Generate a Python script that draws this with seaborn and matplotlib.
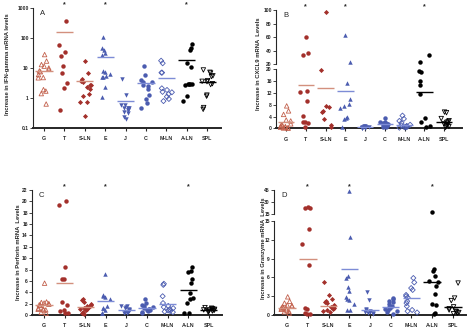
import numpy as np
import matplotlib.pyplot as plt
import pandas as pd
import seaborn as sns

cats = ["G", "T", "S-LN", "E", "J", "C", "M-LN", "A-LN", "SPL"]
starred = ["T", "E", "A-LN"]

# A: IFN-gamma (log axis)
ifn = {
    "G": [28, 17, 13, 11.5, 10, 9, 8, 7.5, 6, 4.8, 4.7, 1.9, 1.7, 1.4, 0.63],
    "T": [378, 58, 33, 25, 11.7, 6.6, 3.2, 2.2, 0.4],
    "S-LN": [16.5, 6.7, 4.4, 3.8, 3.4, 2.7, 2.7, 2.3, 2.0, 1.35, 1.15, 0.75, 0.75, 0.25],
    "E": [105, 45, 40, 32, 28, 7.9, 7.2, 6.5, 5.3, 4.9, 4.9, 2.3, 1.05],
    "J": [4.4, 1.3, 0.6, 0.58, 0.48, 0.47, 0.46, 0.4, 0.39, 0.34, 0.32, 0.23, 0.2],
    "C": [12, 5.7, 4, 3.4, 3.3, 2.7, 2.6, 1.95, 1.3, 0.93, 0.67, 0.48],
    "M-LN": [17.5, 14.4, 7, 7, 2.1, 1.85, 1.6, 1.55, 1.35, 1.1, 0.93, 0.79],
    "A-LN": [62, 47, 40, 14.5, 11, 3.0, 3.0, 3.0, 2.9, 2.8, 1.2, 0.8],
    "SPL": [8.6, 7.2, 6.8, 5.5, 5.2, 3.8, 3.6, 3.5, 3.0, 2.8, 1.25, 1.15, 0.48, 0.42],
}
ifn_line = [7.9, 160, 3.7, 24, 0.79, 3.1, 4.5, 18.5, 3.5]

# B: CXCL9 (axis broken at 20)
cxcl9 = {
    "G": [7.6, 5.9, 4.7, 2.8, 2.5, 1.5, 1.1, 0.9, 0.8, 0.6, 0.35, 0.3, 0.2, 0.1, 0.05],
    "T": [60, 36, 33.5, 12.5, 12.4, 9.1, 4.2, 2.2, 2.0, 1.8, 0.3],
    "S-LN": [97, 19.7, 7.4, 7.2, 5.7, 5.6, 3.1, 1.1, 0.3],
    "E": [63, 22.5, 15.5, 10, 8.3, 7.6, 6.8, 3.7, 3.4, 3.1, 0.3],
    "J": [0.9, 0.7, 0.6, 0.5, 0.4, 0.35, 0.3, 0.25, 0.2, 0.2, 0.15, 0.1],
    "C": [3.4, 2.2, 2.0, 1.8, 1.6, 1.5, 1.3, 1.2, 1.0, 0.8, 0.6, 0.4],
    "M-LN": [4.3, 3.2, 2.5, 1.8, 1.2, 1.0, 0.8, 0.6, 0.5, 0.4, 0.3, 0.2],
    "A-LN": [33.5, 23.5, 19.5, 19, 15.9, 14.8, 11.6, 3.4, 2.3, 0.9, 0.6],
    "SPL": [5.5, 5.3, 3.3, 2.6, 2.2, 2.0, 1.6, 1.3, 1.0, 0.8, 0.6, 0.3],
}
cxcl9_line = [2.2, 14.8, 13.6, 12.7, 0.4, 1.4, 1.1, 12.2, 2.1]

# C: Perforin
perf = {
    "G": [5.6, 2.3, 2.2, 2.1, 2.0, 1.9, 1.8, 1.7, 1.2, 1.1, 1.0, 0.9, 0.9, 0.5, 0.3],
    "T": [20, 19.3, 8.5, 6.4, 6.3, 2.3, 1.7, 0.9, 0.7, 0.4, 0.3],
    "S-LN": [2.9, 2.6, 2.3, 2.0, 1.8, 1.6, 1.5, 1.4, 1.2, 1.1, 1.0, 0.8, 0.6, 0.4, 0.2],
    "E": [7.3, 3.5, 3.3, 3.1, 2.8, 1.5, 1.3, 1.2, 0.9, 0.4, 0.3],
    "J": [1.6, 1.5, 1.4, 1.2, 1.0, 0.9, 0.8, 0.7, 0.6, 0.5, 0.4, 0.3],
    "C": [2.8, 2.2, 1.7, 1.5, 1.4, 1.2, 1.1, 1.0, 0.9, 0.8, 0.7, 0.5, 0.3],
    "M-LN": [5.5, 5.3, 3.3, 2.1, 1.6, 1.4, 1.2, 1.0, 0.8, 0.7, 0.6, 0.5],
    "A-LN": [8.4, 7.8, 7.5, 6.4, 5.6, 3.9, 3.0, 2.9, 2.2, 0.4, 0.3],
    "SPL": [1.3, 1.2, 1.1, 1.0, 1.0, 0.9, 0.9, 0.8, 0.8, 0.7, 0.6, 0.5],
}
perf_line = [1.8, 5.6, 1.4, 2.4, 0.8, 1.3, 2.0, 4.4, 0.9]

# D: Granzyme (axis broken at 15)
gzm = {
    "G": [2.9, 2.2, 1.9, 1.6, 1.5, 1.4, 1.3, 1.2, 1.1, 1.0, 0.9, 0.8, 0.6, 0.5, 0.3],
    "T": [23.5, 23, 22.5, 13.8, 11.3, 8.0, 1.1, 0.9, 0.3, 0.2, 0.15],
    "S-LN": [5.3, 3.2, 2.5, 2.2, 2.0, 1.9, 1.6, 1.4, 1.2, 1.1, 0.9, 0.8, 0.6, 0.5],
    "E": [44, 12.5, 6.2, 5.9, 4.5, 3.9, 2.9, 2.6, 2.4, 1.8, 0.8, 0.8],
    "J": [3.6, 2.4, 0.9, 0.8, 0.6, 0.5, 0.4, 0.3, 0.3, 0.2],
    "C": [2.7, 2.5, 2.3, 2.0, 1.7, 1.5, 1.3, 1.1, 1.0, 0.8, 0.6, 0.4, 0.2],
    "M-LN": [5.9, 5.2, 4.3, 4.0, 3.2, 3.0, 2.8, 2.2, 1.9, 1.4, 0.8, 0.6, 0.4],
    "A-LN": [18.3, 7.4, 7.0, 6.2, 5.4, 5.2, 4.6, 3.4, 1.7, 1.6, 0.3, 0.2],
    "SPL": [5.1, 2.7, 2.3, 1.3, 1.0, 0.8, 0.6, 0.5, 0.4, 0.3, 0.2],
}
gzm_line = [1.1, 8.9, 1.4, 7.4, 0.8, 1.3, 2.7, 5.2, 1.3]

red, red_light, blue = "#a3302b", "#c2604c", "#4b5cb0"
markers = ["^", "o", "D", "^", "v", "o", "D", "o", "v"]
hollow = [True, False, False, False, False, False, True, False, True]
colors = [red_light, red, red, blue, blue, blue, blue, "black", "black"]
line_colors = ["#d3907e"] * 3 + ["#7d8cd6"] * 4 + ["black"] * 2

sns.set_style("ticks")
plt.rcParams["font.family"] = ["Liberation Sans", "DejaVu Sans"]
plt.rcParams["font.weight"] = "bold"

fig = plt.figure(figsize=(4.68, 3.30), dpi=100)


def box(l, t, r, b):
    # pixel box -> figure fraction
    return [l / 468, 1 - b / 330, (r - l) / 468, (b - t) / 330]


def draw_points(ax, values, line_vals, lo=-np.inf, hi=np.inf):
    df = pd.DataFrame(
        [(c, v) for c in cats for v in values[c]], columns=["tissue", "value"]
    )
    df = df[(df["value"] >= lo) & (df["value"] <= hi)]
    np.random.seed(3)
    for i, c in enumerate(cats):
        sub = df[df["tissue"] == c]
        if sub.empty:
            continue
        kw = dict(marker=markers[i], jitter=0.3)
        size = 2.6 if markers[i] == "D" else 3.2
        if hollow[i]:
            kw.update(facecolor="none", edgecolor=colors[i], linewidth=0.6)
        else:
            kw.update(linewidth=0)
        sns.stripplot(
            data=sub, x="tissue", y="value", order=cats, color=colors[i],
            size=size, ax=ax, **kw
        )
    # let points sit on the axis lines (skip the empty collections)
    for coll in ax.collections:
        if len(coll.get_offsets()) > 0:
            coll.set_clip_on(False)
    xs = np.arange(len(cats))
    keep = np.array([(v >= lo) and (v <= hi) for v in line_vals])
    if keep.any():
        ax.hlines(
            np.array(line_vals)[keep], xs[keep] - 0.42, xs[keep] + 0.42,
            colors=np.array(line_colors)[keep], linewidth=1.0, zorder=4
        )
    ax.set_xlabel("")
    ax.set_ylabel("")


def style_bottom(ax, xlim):
    ax.set_xlim(xlim)
    ax.set_xticks(range(len(cats)))
    ax.set_xticklabels(cats, fontsize=3.8, fontweight="bold")
    ax.tick_params(axis="x", length=2, width=0.8, pad=4)
    ax.tick_params(axis="y", length=2, width=0.6, pad=1, labelsize=3.6)
    ax.spines["bottom"].set_linewidth(1.4)
    ax.spines["left"].set_linewidth(0.8)
    sns.despine(ax=ax)


def style_top(ax, xlim):
    ax.set_xlim(xlim)
    ax.set_xticks([])
    ax.tick_params(axis="y", length=2, width=0.6, pad=1, labelsize=3.6)
    ax.spines["left"].set_linewidth(0.8)
    sns.despine(ax=ax, bottom=True)


def decorate(ax, letter):
    for c in starred:
        ax.annotate(
            "*", xy=(cats.index(c), 1), xycoords=("data", "axes fraction"),
            xytext=(0, 0), textcoords="offset points", ha="center",
            va="bottom", fontsize=5
        )
    ax.annotate(
        letter, xy=(0, 1), xycoords="axes fraction", xytext=(5, -1.5),
        textcoords="offset points", ha="left", va="top", fontsize=5.5,
        fontweight="normal"
    )


# ---- A
ax_a = fig.add_axes(box(33, 8, 221, 128))
ax_a.set_yscale("log")
draw_points(ax_a, ifn, ifn_line)
ax_a.set_ylim(0.1, 1000)
ax_a.set_yticks([0.1, 1, 10, 100, 1000])
ax_a.set_yticklabels(["0.1", "1", "10", "100", "1000"])
ax_a.yaxis.set_minor_locator(plt.NullLocator())
style_bottom(ax_a, (-0.54, 8.68))
decorate(ax_a, "A")
fig.text(0.016, 1 - 64 / 330, "Increase in IFN-gamma mRNA levels",
         rotation=90, ha="center", va="center", fontsize=4.2)

# ---- B
ax_b = fig.add_axes(box(276, 69.3, 462, 128.3))
ax_b2 = fig.add_axes(box(276, 10.3, 462, 64))
draw_points(ax_b, cxcl9, cxcl9_line, hi=20)
draw_points(ax_b2, cxcl9, cxcl9_line, lo=20)
ax_b.set_ylim(0, 20)
ax_b.set_yticks(range(0, 21, 4))
ax_b2.set_ylim(20, 100)
ax_b2.set_yticks(range(20, 101, 20))
style_bottom(ax_b, (-0.51, 8.91))
style_top(ax_b2, (-0.51, 8.91))
decorate(ax_b2, "B")
fig.text(259 / 468, 1 - 64 / 330, "Increase in CXCL9 mRNA  Levels",
         rotation=90, ha="center", va="center", fontsize=4.2)

# ---- C
ax_c = fig.add_axes(box(32, 190, 222, 315))
draw_points(ax_c, perf, perf_line)
ax_c.set_ylim(0, 22)
ax_c.set_yticks(range(0, 23, 2))
style_bottom(ax_c, (-0.58, 8.64))
decorate(ax_c, "C")
fig.text(19 / 468, 1 - 252 / 330, "Increase in Perforin mRNA  Levels",
         rotation=90, ha="center", va="center", fontsize=4.2)

# ---- D
ax_d = fig.add_axes(box(274, 221, 466, 315))
ax_d2 = fig.add_axes(box(274, 190, 466, 214.3))
draw_points(ax_d, gzm, gzm_line, hi=15)
draw_points(ax_d2, gzm, gzm_line, lo=15)
ax_d.set_ylim(0, 15)
ax_d.set_yticks(range(0, 16, 3))
ax_d2.set_ylim(15, 45)
ax_d2.set_yticks([15, 30, 45])
style_bottom(ax_d, (-0.63, 8.63))
style_top(ax_d2, (-0.63, 8.63))
decorate(ax_d2, "D")
fig.text(263 / 468, 1 - 248 / 330, "Increase in Granzyme mRNA  Levels",
         rotation=90, ha="center", va="center", fontsize=4.2)

fig.savefig("out.png", dpi=100)
